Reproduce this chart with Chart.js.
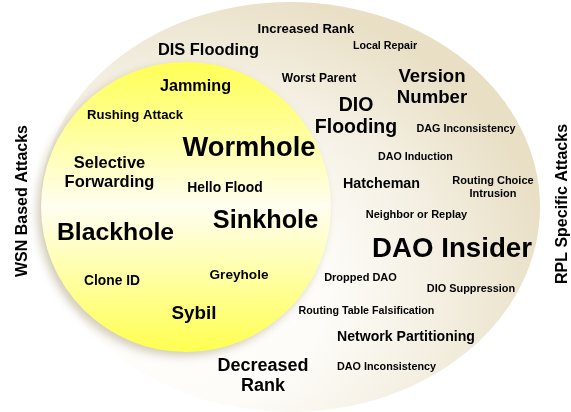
<!DOCTYPE html>
<html>
<head>
<meta charset="utf-8">
<script src="https://cdn.jsdelivr.net/npm/chart.js@4.4.1/dist/chart.umd.min.js"></script>
<style>
  html, body { margin: 0; padding: 0; background: #fff; }
  #wrap { width: 571px; height: 412px; }
</style>
</head>
<body>
<div id="wrap"><canvas id="myChart"></canvas></div>
<script>
// attacks inside the yellow circle (WSN based)
const wsnAttacks = ["Jamming", "Rushing Attack", "Wormhole", ["Selective", "Forwarding"], "Hello Flood",
  "Sinkhole", "Blackhole", "Clone ID", "Greyhole", "Sybil"];
const wsnX = [195.5, 135, 249, 109.5, 225, 265.5, 115.5, 112, 239, 194];
const wsnY = [87, 115, 148, 173, 188, 221, 233, 281, 275, 314];
const wsnWeight = [16.2, 13.1, 27.3, 16.5, 13.9, 25.3, 24.8, 13.8, 13.6, 18.8];

// attacks only in the outer ellipse (RPL specific)
const rplAttacks = ["Increased Rank", "Local Repair", "DIS Flooding", "Worst Parent", ["Version", "Number"],
  ["DIO", "Flooding"], "DAG Inconsistency", "DAO Induction", "Hatcheman", ["Routing Choice", "Intrusion"],
  "Neighbor or Replay", "DAO Insider", "Dropped DAO", "DIO Suppression", "Routing Table Falsification",
  "Network Partitioning", ["Decreased", "Rank"], "DAO Inconsistency"];
const rplX = [306, 385, 208.5, 319, 432, 356, 466, 415.5, 381.5, 493, 416.5, 452, 360.5, 471, 366.5, 406, 263, 386.5];
const rplY = [29, 46, 50, 79, 87.5, 117, 129, 157, 184, 187.5, 215, 249.5, 278, 289, 311, 337, 376, 367];
const rplWeight = [13.1, 10.7, 16.4, 12, 18.6, 19.5, 10.8, 10.7, 14.3, 11, 11, 27.7, 11, 10.9, 10.7, 14.1, 18, 10.8];

const groupLabels = ["WSN Based Attacks", "RPL Specific Attacks"];

const FONT = '"Liberation Sans", Arial, sans-serif';

function toPoints(xs, ys) {
  return xs.map((x, i) => ({ x: x, y: ys[i] }));
}

const bgPlugin = {
  id: "venn",
  beforeDatasetsDraw(chart) {
    const ctx = chart.ctx;
    const sx = chart.scales.x, sy = chart.scales.y;
    // outer ellipse
    const ocx = sx.getPixelForValue(290), ocy = sy.getPixelForValue(207);
    const orx = sx.getPixelForValue(540) - ocx, ory = sy.getPixelForValue(412) - ocy;
    ctx.save();
    ctx.translate(ocx, ocy);
    ctx.scale(orx, ory);
    const g = ctx.createRadialGradient(-0.45, 0.4, 0, -0.45, 0.4, 1.5);
    g.addColorStop(0, "#ffffff");
    g.addColorStop(0.4, "#fdfcf8");
    g.addColorStop(0.72, "#f3eee0");
    g.addColorStop(1, "#e8dfc5");
    ctx.beginPath();
    ctx.arc(0, 0, 1, 0, Math.PI * 2);
    ctx.fillStyle = g;
    ctx.fill();
    ctx.restore();

    // yellow circle
    const ccx = sx.getPixelForValue(186), ccy = sy.getPixelForValue(207);
    const cr = sx.getPixelForValue(186 + 145) - ccx;
    ctx.save();
    const yg = ctx.createLinearGradient(0, ccy - cr, 0, ccy + cr);
    yg.addColorStop(0, "#ffff55");
    yg.addColorStop(0.18, "#ffff88");
    yg.addColorStop(0.5, "#fffef0");
    yg.addColorStop(0.8, "#ffff90");
    yg.addColorStop(1, "#ffff50");
    ctx.shadowColor = "rgba(130,110,60,0.35)";
    ctx.shadowBlur = 10;
    ctx.shadowOffsetX = -4;
    ctx.shadowOffsetY = 4;
    ctx.beginPath();
    ctx.arc(ccx, ccy, cr, 0, Math.PI * 2);
    ctx.fillStyle = yg;
    ctx.fill();
    ctx.restore();
  },
  afterDatasetsDraw(chart) {
    const ctx = chart.ctx;
    ctx.save();
    ctx.fillStyle = "#000";
    ctx.textAlign = "center";
    ctx.textBaseline = "middle";
    chart.data.datasets.forEach((ds, di) => {
      const meta = chart.getDatasetMeta(di);
      meta.data.forEach((pt, i) => {
        const size = ds.weights[i];
        const lines = [].concat(ds.names[i]);
        const lh = size * 1.13;
        ctx.font = "bold " + size + "px " + FONT;
        lines.forEach((line, li) => {
          const off = (li - (lines.length - 1) / 2) * lh;
          ctx.fillText(line, pt.x, pt.y + off);
        });
      });
    });
    // side titles
    const sx = chart.scales.x, sy = chart.scales.y;
    ctx.font = "bold 16px " + FONT;
    [[23, 201], [563, 204]].forEach((p, i) => {
      ctx.save();
      ctx.translate(sx.getPixelForValue(p[0]), sy.getPixelForValue(p[1]));
      ctx.rotate(-Math.PI / 2);
      ctx.fillText(groupLabels[i], 0, 0);
      ctx.restore();
    });
    ctx.restore();
  }
};

new Chart(document.getElementById("myChart"), {
  type: "scatter",
  data: {
    datasets: [
      { label: "WSN", data: toPoints(wsnX, wsnY), names: wsnAttacks, weights: wsnWeight, pointRadius: 0 },
      { label: "RPL", data: toPoints(rplX, rplY), names: rplAttacks, weights: rplWeight, pointRadius: 0 }
    ]
  },
  options: {
    responsive: true,
    maintainAspectRatio: false,
    animation: false,
    layout: { padding: 0 },
    plugins: { legend: { display: false }, tooltip: { enabled: false } },
    scales: {
      x: { type: "linear", min: 0, max: 571, display: false },
      y: { type: "linear", min: 0, max: 412, reverse: true, display: false }
    }
  },
  plugins: [bgPlugin]
});
</script>
</body>
</html>
